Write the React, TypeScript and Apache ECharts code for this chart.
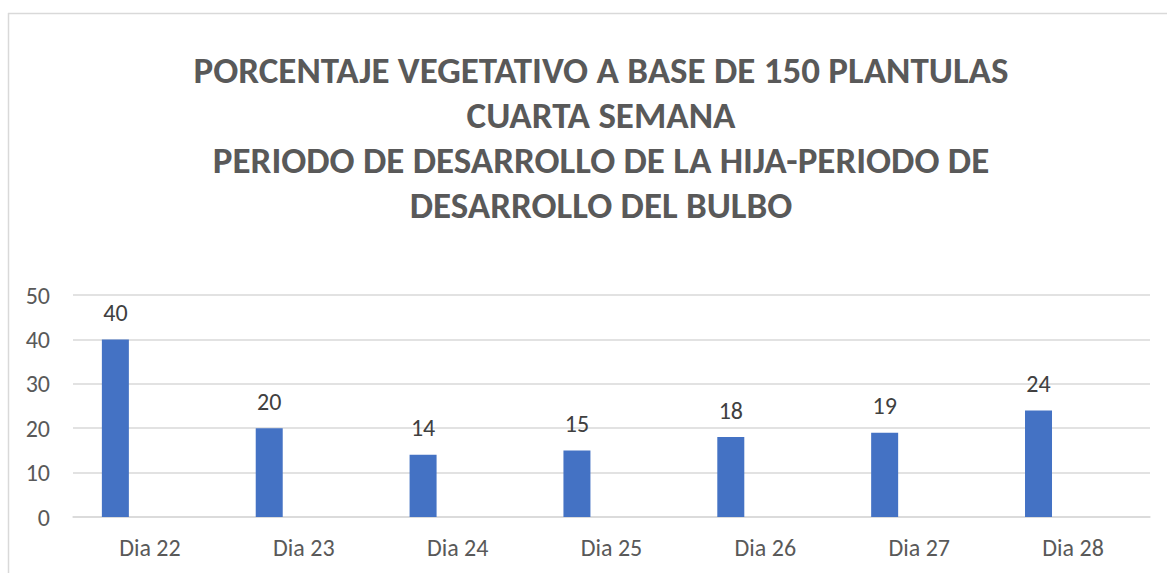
import React, { useEffect, useRef } from "react";
import * as echarts from "echarts";

const categories = ["Dia 22", "Dia 23", "Dia 24", "Dia 25", "Dia 26", "Dia 27", "Dia 28"];
const values = [40, 20, 14, 15, 18, 19, 24];
const emptySeries = [null, null, null, null, null, null, null];
const titleLines = [
  "PORCENTAJE VEGETATIVO A BASE DE 150 PLANTULAS",
  "CUARTA SEMANA",
  "PERIODO DE DESARROLLO DE LA HIJA-PERIODO DE",
  "DESARROLLO DEL BULBO",
];

const FONT = "Carlito, Calibri, 'Open Sans', sans-serif";

export default function App() {
  const ref = useRef<HTMLDivElement>(null);
  useEffect(() => {
    if (!ref.current) return;
    const chart = echarts.init(ref.current, null, { renderer: "svg" });
    chart.setOption({
      animation: false,
      backgroundColor: "#ffffff",
      title: {
        text: titleLines.join("\n"),
        left: 596,
        top: 43,
        textAlign: "center",
        textStyle: {
          fontFamily: FONT,
          fontWeight: "bold",
          fontSize: 37,
          lineHeight: 45,
          color: "#595959",
        },
      },
      graphic: [
        {
          type: "line",
          shape: { x1: 8, y1: 13.5, x2: 1167, y2: 13.5 },
          style: { stroke: "#D9D9D9", lineWidth: 1.5 },
          silent: true,
        },
        {
          type: "line",
          shape: { x1: 8.5, y1: 13, x2: 8.5, y2: 573 },
          style: { stroke: "#D9D9D9", lineWidth: 1.5 },
          silent: true,
        },
      ],
      grid: { left: 73, right: 17, top: 295, bottom: 56, containLabel: false },
      xAxis: {
        type: "category",
        data: categories,
        axisLine: { show: true, lineStyle: { color: "#D9D9D9", width: 1.5 } },
        axisTick: { show: false },
        axisLabel: { color: "#595959", fontFamily: FONT, fontSize: 24, margin: 18 },
      },
      yAxis: {
        type: "value",
        min: 0,
        max: 50,
        interval: 10,
        axisLine: { show: false },
        axisTick: { show: false },
        splitLine: { lineStyle: { color: "#D9D9D9", width: 1.5 } },
        axisLabel: { color: "#595959", fontFamily: FONT, fontSize: 24, margin: 23 },
      },
      series: [
        {
          type: "bar",
          data: values,
          barWidth: 27,
          barGap: "156%",
          itemStyle: { color: "#4472C4" },
          label: {
            show: true,
            position: "top",
            distance: 15,
            color: "#404040",
            fontFamily: FONT,
            fontSize: 24,
          },
        },
        {
          type: "bar",
          data: emptySeries,
          barWidth: 27,
          barGap: "156%",
          itemStyle: { color: "#ED7D31" },
        },
      ],
    });
    return () => chart.dispose();
  }, []);
  return (
    <div
      ref={ref}
      style={{ position: "fixed", left: 0, top: 0, width: 1167, height: 573 }}
    />
  );
}
